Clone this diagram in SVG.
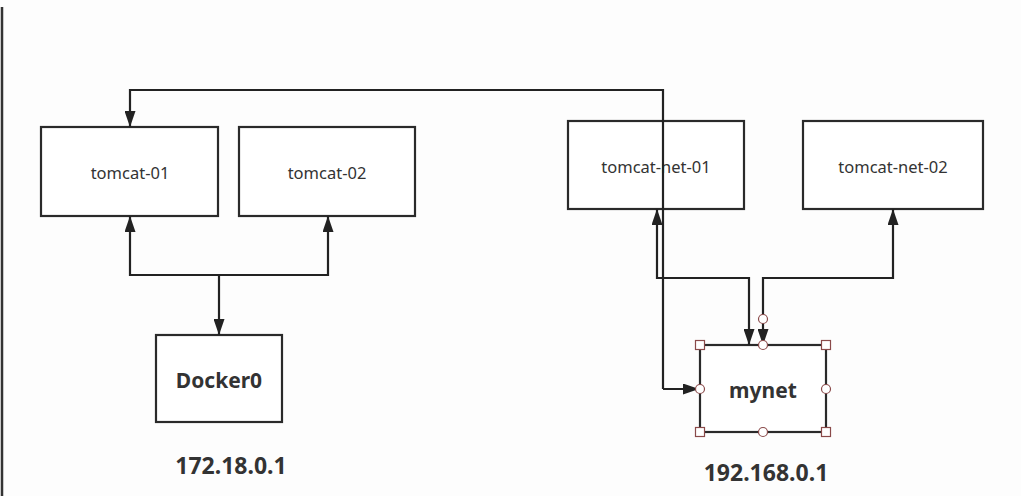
<svg xmlns="http://www.w3.org/2000/svg" width="1021" height="496" viewBox="0 0 1021 496">
  <defs>
    <marker id="arr" viewBox="0 0 16 11" refX="16" refY="5.5" markerWidth="7.3" markerHeight="5" orient="auto-start-reverse">
      <path d="M0,0 L16,5.5 L0,11 Z" fill="#222"/>
    </marker>
  </defs>
  <style>
    .box { fill: #fff; stroke: #2a2a2a; stroke-width: 2.2; }
    .lbl { font-family: "Noto Sans", "Liberation Sans", sans-serif; font-size: 16.5px; fill: #333; text-anchor: middle; dominant-baseline: central; }
    .bold { font-family: "Noto Sans", "Liberation Sans", sans-serif; font-weight: bold; font-size: 21px; fill: #333; text-anchor: middle; dominant-baseline: central; }
    .ip { font-size: 23px; }
    .conn { fill: none; stroke: #222; stroke-width: 2.2; }
    .hs { fill: #fff; stroke: #8a4a4a; stroke-width: 1.2; }
  </style>
  <rect width="1021" height="496" fill="#fdfdfd"/>
  <line x1="2" y1="7" x2="2" y2="496" stroke="#333" stroke-width="2.5"/>

  <g id="tomcat-01"><rect class="box" x="41" y="127" width="177" height="89"/><text class="lbl" x="130" y="172">tomcat-01</text></g>
  <g id="tomcat-02"><rect class="box" x="239" y="127" width="176" height="89"/><text class="lbl" x="327" y="172">tomcat-02</text></g>
  <g id="tomcat-net-01"><rect class="box" x="568" y="121" width="176" height="88"/><text class="lbl" x="656" y="166">tomcat-net-01</text></g>
  <g id="tomcat-net-02"><rect class="box" x="803" y="121" width="180" height="88"/><text class="lbl" x="893" y="166">tomcat-net-02</text></g>
  <g id="docker0"><rect class="box" x="156" y="335" width="126" height="87"/><text class="bold" x="219" y="380">Docker0</text><text class="bold ip" x="231" y="465">172.18.0.1</text></g>
  <g id="mynet"><rect class="box" x="700" y="345" width="126" height="87"/><text class="bold" x="763" y="390">mynet</text><text class="bold ip" x="766" y="472">192.168.0.1</text></g>

  <g id="connectors">
    <path class="conn" d="M663,389 L663,90 L130,90 L130,127" marker-end="url(#arr)"/>
    <path class="conn" d="M663,389 L699,389" marker-end="url(#arr)"/>
    <path class="conn" d="M130,216 L130,275 L328,275 L328,216" marker-start="url(#arr)" marker-end="url(#arr)"/>
    <path class="conn" d="M219,275 L219,335" marker-end="url(#arr)"/>
    <path class="conn" d="M657,209 L657,278 L749,278 L749,345" marker-start="url(#arr)" marker-end="url(#arr)"/>
    <path class="conn" d="M893,209 L893,278 L763,278 L763,345" marker-start="url(#arr)" marker-end="url(#arr)"/>
  </g>

  <g id="mynet-handles">
    <circle class="hs" cx="763" cy="319" r="4.5"/>
    <rect class="hs" x="695.5" y="340.5" width="9" height="9"/>
    <rect class="hs" x="821.5" y="340.5" width="9" height="9"/>
    <rect class="hs" x="695.5" y="427.5" width="9" height="9"/>
    <rect class="hs" x="821.5" y="427.5" width="9" height="9"/>
    <circle class="hs" cx="763" cy="345" r="4.5"/>
    <circle class="hs" cx="763" cy="432" r="4.5"/>
    <circle class="hs" cx="700" cy="389" r="4.5"/>
    <circle class="hs" cx="826" cy="389" r="4.5"/>
  </g>
</svg>
